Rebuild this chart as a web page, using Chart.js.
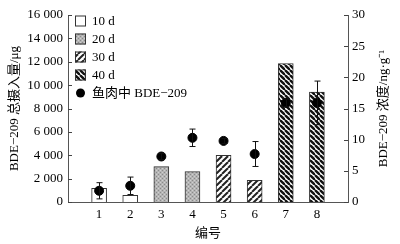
<!DOCTYPE html>
<html>
<head>
<meta charset="utf-8">
<script src="https://cdn.jsdelivr.net/npm/chart.js@4"></script>
<style>
  html, body { margin: 0; padding: 0; background: #fff; }
  #wrap { width: 400px; height: 244px; position: relative; }
</style>
</head>
<body>
<div id="wrap"><canvas id="chart"></canvas></div>
<script>
// DATA
const sample_ids = [1, 2, 3, 4, 5, 6, 7, 8];
const intake_10d = [1170, 570];      // samples 1,2
const intake_20d = [3030, 2600];     // samples 3,4
const intake_30d = [4000, 1850];     // samples 5,6
const intake_40d = [11850, 9400];    // samples 7,8
const fish_conc = [1.8, 2.6, 7.3, 10.3, 9.8, 7.7, 15.9, 15.9];
const fish_err = [1.3, 1.4, 0.5, 1.4, 0.4, 2.0, 0.6, 3.5];
const left_ticks = [0, 2000, 4000, 6000, 8000, 10000, 12000, 14000, 16000];
const right_ticks = [0, 5, 10, 15, 20, 25, 30];
const right_title = "BDE−209 浓度/ng·g⁻¹";

const SERIF = "'Liberation Serif', 'Noto Sans CJK SC', serif";

// PATTERNS
function makePattern(size, draw) {
  const c = document.createElement("canvas");
  c.width = size;
  c.height = size;
  const g = c.getContext("2d");
  draw(g, size);
  return document.getElementById("chart").getContext("2d").createPattern(c, "repeat");
}

const pat_20d = makePattern(4, (g, s) => {
  g.fillStyle = "#b4b4b4";
  g.fillRect(0, 0, s, s);
  g.fillStyle = "#8a8a8a";
  g.fillRect(0, 0, 1, 1);
  g.fillRect(2, 2, 1, 1);
  g.fillStyle = "#d0d0d0";
  g.fillRect(2, 0, 1, 1);
  g.fillRect(0, 2, 1, 1);
});

const pat_30d = makePattern(6, (g, s) => {
  g.fillStyle = "#fff";
  g.fillRect(0, 0, s, s);
  g.strokeStyle = "#222";
  g.lineWidth = 2;
  for (let k = -1; k <= 1; k++) {
    g.beginPath();
    g.moveTo(k * s, s);
    g.lineTo(k * s + s, 0);
    g.stroke();
  }
});

const pat_40d = makePattern(5, (g, s) => {
  g.fillStyle = "#fff";
  g.fillRect(0, 0, s, s);
  g.strokeStyle = "#111";
  g.lineWidth = 2.4;
  for (let k = -1; k <= 1; k++) {
    g.beginPath();
    g.moveTo(k * s, 0);
    g.lineTo(k * s + s, s);
    g.stroke();
  }
});

function barSet(label, xs, ys, fill) {
  return {
    type: "bar",
    label: label,
    data: xs.map((x, i) => ({ x: x, y: ys[i] })),
    backgroundColor: fill,
    borderColor: "#333",
    borderWidth: 1,
    barThickness: 15,
    grouped: false,
    yAxisID: "y",
    order: 2,
  };
}

// ERROR BARS + INWARD TICKS + LEGEND + RIGHT TITLE
const extras = {
  id: "extras",
  afterDatasetsDraw(chart) {
    const c = chart.ctx;
    const xs = chart.scales.x, y2 = chart.scales.y2;
    c.save();
    c.strokeStyle = "#111";
    c.lineWidth = 1;
    fish_conc.forEach((v, i) => {
      const px = Math.round(xs.getPixelForValue(sample_ids[i])) + 0.5;
      const top = y2.getPixelForValue(v + fish_err[i]);
      const bot = y2.getPixelForValue(v - fish_err[i]);
      c.beginPath();
      c.moveTo(px, top); c.lineTo(px, bot);
      c.moveTo(px - 3, top); c.lineTo(px + 3, top);
      c.moveTo(px - 3, bot); c.lineTo(px + 3, bot);
      c.stroke();
    });
    c.restore();
  },
  afterDraw(chart) {
    const c = chart.ctx;
    const area = chart.chartArea;
    const y = chart.scales.y, y2 = chart.scales.y2;
    c.save();
    c.strokeStyle = "#444";
    c.lineWidth = 1;
    left_ticks.forEach((t) => {
      const py = Math.round(y.getPixelForValue(t)) + 0.5;
      c.beginPath(); c.moveTo(area.left, py); c.lineTo(area.left + 4, py); c.stroke();
    });
    right_ticks.forEach((t) => {
      const py = Math.round(y2.getPixelForValue(t)) + 0.5;
      c.beginPath(); c.moveTo(area.right - 4, py); c.lineTo(area.right, py); c.stroke();
    });

    // legend
    const items = [
      { label: "10 d", fill: "#fff" },
      { label: "20 d", fill: pat_20d },
      { label: "30 d", fill: pat_30d },
      { label: "40 d", fill: pat_40d },
      { label: "鱼肉中 BDE−209", dot: true },
    ];
    c.font = "13px " + SERIF;
    c.textBaseline = "middle";
    c.fillStyle = "#000";
    items.forEach((it, i) => {
      const cy = 21 + i * 18;
      if (it.dot) {
        c.fillStyle = "#000";
        c.beginPath(); c.arc(80.5, cy, 4.5, 0, Math.PI * 2); c.fill();
      } else {
        c.fillStyle = it.fill;
        c.fillRect(75, cy - 5.5, 11, 11);
        c.strokeStyle = "#333";
        c.strokeRect(75.5, cy - 5, 10, 10);
      }
      c.fillStyle = "#000";
      c.fillText(it.label, 92, cy + 1);
    });

    // right axis title, reading bottom to top
    c.translate(384, (area.top + area.bottom) / 2);
    c.rotate(-Math.PI / 2);
    c.textAlign = "center";
    c.textBaseline = "middle";
    c.fillStyle = "#000";
    c.fillText(right_title, 0, 0);
    c.restore();
  },
};

new Chart(document.getElementById("chart"), {
  data: {
    datasets: [
      {
        type: "scatter",
        label: "鱼肉中 BDE−209",
        data: sample_ids.map((x, i) => ({ x: x, y: fish_conc[i] })),
        yAxisID: "y2",
        pointRadius: 4.5,
        pointBackgroundColor: "#000",
        pointBorderColor: "#000",
        order: 1,
      },
      barSet("10 d", [1, 2], intake_10d, "#fff"),
      barSet("20 d", [3, 4], intake_20d, pat_20d),
      barSet("30 d", [5, 6], intake_30d, pat_30d),
      barSet("40 d", [7, 8], intake_40d, pat_40d),
    ],
  },
  options: {
    responsive: true,
    maintainAspectRatio: false,
    animation: false,
    layout: { padding: { top: 15, left: 0, right: 0, bottom: 0 } },
    plugins: { legend: { display: false }, tooltip: { enabled: false } },
    scales: {
      x: {
        type: "linear",
        min: 0,
        max: 9,
        offset: false,
        afterBuildTicks(scale) {
          scale.ticks = sample_ids.map((v) => ({ value: v }));
        },
        ticks: { color: "#000", font: { family: SERIF, size: 13 }, padding: 5 },
        grid: { display: false, drawTicks: false },
        border: { color: "#555" },
        title: {
          display: true,
          text: "编号",
          color: "#000",
          font: { family: SERIF, size: 13 },
          padding: { top: 0, bottom: 3 },
        },
        afterFit(scale) { scale.height = 42; },
      },
      y: {
        position: "left",
        min: 0,
        max: 16000,
        afterBuildTicks(scale) {
          scale.ticks = left_ticks.map((v) => ({ value: v }));
        },
        ticks: {
          color: "#000",
          font: { family: SERIF, size: 13 },
          padding: 5,
          callback: (v) => String(v).replace(/\B(?=(\d{3})+$)/g, " "),
        },
        grid: { display: false, drawTicks: false },
        border: { color: "#555" },
        title: {
          display: true,
          text: "BDE−209 总摄入量/μg",
          color: "#000",
          font: { family: SERIF, size: 13 },
          padding: { top: 7, bottom: 0 },
        },
        afterFit(scale) { scale.width = 68; },
      },
      y2: {
        position: "right",
        min: 0,
        max: 30,
        afterBuildTicks(scale) {
          scale.ticks = right_ticks.map((v) => ({ value: v }));
        },
        ticks: { color: "#000", font: { family: SERIF, size: 13 }, padding: 4 },
        grid: { display: false, drawTicks: false },
        border: { color: "#555" },
        afterFit(scale) { scale.width = 52; },
      },
    },
  },
  plugins: [extras],
});
</script>
</body>
</html>
